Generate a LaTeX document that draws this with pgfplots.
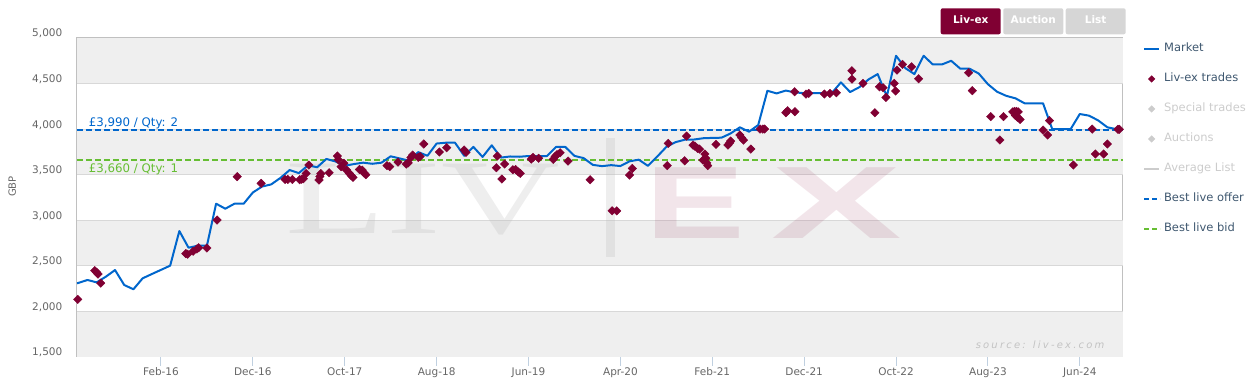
\documentclass[border=0pt]{standalone}
\usepackage{pgfplots}
\pgfplotsset{compat=1.18}
\usepackage{pgfplotstable}
\usepackage{fontspec}
\setmainfont{DejaVu Sans}
\newfontfamily\serifwm{Liberation Serif}
\newfontfamily\sanswm{Liberation Sans}
\newfontfamily\srcfont[LetterSpace=22]{DejaVu Sans}
\definecolor{livred}{RGB}{128,0,51}
\definecolor{mktblue}{RGB}{0,102,204}
\definecolor{bidgreen}{RGB}{102,190,51}
\definecolor{band}{RGB}{239,239,239}
\definecolor{gridc}{RGB}{216,216,216}
\definecolor{boxc}{RGB}{192,192,192}
\definecolor{tickc}{RGB}{102,102,102}
\definecolor{legc}{RGB}{62,87,111}
\definecolor{inact}{RGB}{204,204,204}
\definecolor{xtickc}{RGB}{192,208,224}
\definecolor{btngray}{RGB}{214,214,214}
\definecolor{wmgray}{RGB}{188,188,188}
\definecolor{srcc}{RGB}{195,195,195}

% months counted from Jan-15 = 0
\pgfplotstableread{
m v
3.86 2308
5 2345
6 2319
7 2381
8 2454
9 2290
10 2243
11 2363
12 2410
13 2456
14 2502
15 2882
16 2699
17 2721
18 2721
19 3182
20 3127
21 3182
22 3182
23 3305
24 3370
25 3394
26 3465
27 3551
28 3518
29 3602
30 3582
31 3673
32 3645
33 3598
34 3617
35 3632
36 3620
37 3632
38 3702
39 3678
40 3654
41 3748
42 3708
43 3842
44 3851
45 3851
46 3708
47 3805
48 3695
49 3823
50 3688
51 3700
52 3697
53 3705
54 3705
55 3705
56 3805
57 3805
58 3707
59 3682
60 3608
61 3594
62 3605
63 3595
64 3647
65 3665
66 3597
67 3698
68 3805
69 3857
70 3884
71 3886
72 3900
73 3904
74 3906
75 3953
76 4020
77 3972
78 4045
79 4421
80 4392
81 4423
82 4403
83 4395
84 4395
85 4395
86 4395
87 4513
88 4407
89 4460
90 4545
91 4604
92 4360
93 4805
94 4670
95 4604
96 4805
97 4710
98 4710
99 4750
100 4663
101 4663
102 4610
103 4493
104 4410
105 4365
106 4338
107 4283
108 4283
109 4283
110 4000
111 4000
112 4000
113 4166
114 4148
115 4096
116 4020
117 4000
}\market

\pgfplotstableread{
m v
3.94 2132
5.79 2447
6.0 2430
6.15 2410
6.44 2310
15.7 2635
15.9 2628
16.5 2660
16.9 2685
17.1 2699
18.0 2696
19.1 3003
21.3 3478
23.9 3405
26.5 3448
26.8 3448
27.3 3448
28.1 3445
28.3 3450
28.5 3455
28.8 3514
29.1 3606
30.2 3442
30.3 3480
30.4 3512
31.3 3522
32.2 3706
32.3 3665
32.6 3588
32.9 3625
33.2 3551
33.5 3515
33.7 3490
33.9 3470
34.6 3558
34.9 3550
35.1 3520
35.3 3500
37.6 3599
37.9 3588
38.8 3638
39.7 3617
39.9 3630
40.2 3690
40.4 3716
41.0 3690
41.2 3700
41.6 3837
43.3 3749
44.1 3796
46.0 3771
46.2 3745
49.5 3577
49.6 3705
50.1 3452
50.4 3617
51.3 3555
51.6 3558
51.9 3530
52.1 3515
53.3 3672
53.5 3690
54.1 3680
55.7 3668
55.9 3700
56.1 3720
56.45 3741
57.3 3650
59.7 3445
62.1 3104
62.6 3104
64.0 3496
64.3 3569
68.1 3599
68.2 3844
70.0 3653
70.2 3924
70.9 3825
71.1 3814
71.4 3789
71.6 3781
72.0 3660
72.2 3727
72.3 3680
72.4 3630
72.5 3600
73.4 3833
74.7 3825
74.9 3850
75.0 3869
76.0 3935
76.2 3905
76.4 3880
77.2 3781
78.2 4001
78.5 4001
78.7 4001
81.0 4180
81.2 4202
82.0 4191
81.96 4410
83.2 4385
83.5 4392
85.2 4385
85.8 4392
86.5 4399
88.2 4641
88.2 4549
89.4 4502
90.7 4180
91.2 4465
91.6 4454
91.9 4348
92.8 4502
92.95 4418
93.1 4648
93.7 4710
94.7 4684
95.45 4553
100.9 4619
101.3 4422
103.3 4137
104.3 3881
104.7 4137
105.7 4190
105.9 4195
106.1 4195
106.3 4190
106.0 4150
106.2 4130
106.5 4107
109.0 3990
109.5 3935
109.7 4093
112.3 3606
114.35 4001
114.7 3727
115.6 3727
116.0 3837
117.15 3998
117.3 3998
}\trades

\begin{document}
\begin{tikzpicture}
\useasboundingbox (0,0) rectangle (1254pt,391pt);
\begin{axis}[
  at={(77pt,34pt)}, anchor=south west,
  scale only axis, width=1046pt, height=319pt,
  xmin=3.86, xmax=117.7, ymin=1500, ymax=5000,
  clip mode=individual,
  axis line style={boxc, line width=1pt},
  xtick={13,23,...,113},
  xticklabels={Feb-16,Dec-16,Oct-17,Aug-18,Jun-19,Apr-20,Feb-21,Dec-21,Oct-22,Aug-23,Jun-24},
  xtick pos=bottom, xtick align=outside, major tick length=9pt,
  x tick style={draw=xtickc, line width=1pt},
  ytick={1500,2000,2500,3000,3500,4000,4500,5000},
  yticklabels={{1,500},{2,000},{2,500},{3,000},{3,500},{4,000},{4,500},{5,000}},
  ytick pos=left,
  y tick style={draw=none},
  tick label style={font=\fontsize{10.5}{12}\selectfont, text=tickc},
  xticklabel style={anchor=base, yshift=-10pt},
  yticklabel style={anchor=base east, inner sep=0pt, xshift=-14.5pt, yshift=1pt},
  ylabel={GBP},
  ylabel style={at={(axis description cs:-0.062,0.534)}, anchor=center, font=\fontsize{10}{12}\selectfont, text=tickc},
  legend style={at={(axis description cs:1.0191,0.985)}, anchor=north west, draw=none, fill=none,
    inner sep=0pt, font=\fontsize{11.5}{13}\selectfont, text=legc, row sep=18pt,
    nodes={inner xsep=3pt, inner ysep=0pt, text height=9pt, text depth=3pt}},
  legend cell align=left,
]
% background bands
\fill[band] (3.86,4500) rectangle (117.7,5000);
\fill[band] (3.86,3500) rectangle (117.7,4000);
\fill[band] (3.86,2500) rectangle (117.7,3000);
\fill[band] (3.86,1500) rectangle (117.7,2000);
\draw[gridc, line width=1pt] (3.86,2000) -- (117.7,2000);
\draw[gridc, line width=1pt] (3.86,2500) -- (117.7,2500);
\draw[gridc, line width=1pt] (3.86,3000) -- (117.7,3000);
\draw[gridc, line width=1pt] (3.86,3500) -- (117.7,3500);
\draw[gridc, line width=1pt] (3.86,4000) -- (117.7,4000);
\draw[gridc, line width=1pt] (3.86,4500) -- (117.7,4500);
% watermark
\node[font=\serifwm\fontsize{106}{106}\selectfont, text=wmgray, opacity=0.26, xscale=1.55, anchor=base, inner sep=0pt] at (41.5,2860) {LIV};
\fill[wmgray, opacity=0.26] (61.4,2597) rectangle (62.4,3902);
\node[font=\sanswm\bfseries\fontsize{103}{103}\selectfont, text=livred, opacity=0.1, xscale=1.45, anchor=base, inner sep=0pt] at (71.1,2805) {E};
\node[font=\sanswm\bfseries\fontsize{103}{103}\selectfont, text=livred, opacity=0.1, xscale=1.9, anchor=base, inner sep=0pt] at (86.6,2805) {X};
\node[font=\srcfont\itshape\fontsize{10}{12}\selectfont, text=srcc, anchor=base east, inner sep=0pt] at (115.7,1588) {source: liv-ex.com};

% legend
\addlegendimage{legend image code/.code={\draw[mktblue, line width=2pt] (0pt,0pt) -- (15pt,0pt);}}
\addlegendentry{Market}
\addlegendimage{legend image code/.code={\fill[livred] (7.5pt,3.3pt) -- (10.8pt,0pt) -- (7.5pt,-3.3pt) -- (4.2pt,0pt) -- cycle;}}
\addlegendentry{Liv-ex trades}
\addlegendimage{legend image code/.code={\fill[inact] (7.5pt,3.3pt) -- (10.8pt,0pt) -- (7.5pt,-3.3pt) -- (4.2pt,0pt) -- cycle;}}
\addlegendentry{\textcolor{inact}{Special trades}}
\addlegendimage{legend image code/.code={\fill[inact] (7.5pt,3.3pt) -- (10.8pt,0pt) -- (7.5pt,-3.3pt) -- (4.2pt,0pt) -- cycle;}}
\addlegendentry{\textcolor{inact}{Auctions}}
\addlegendimage{legend image code/.code={\draw[inact, line width=2pt] (0pt,0pt) -- (15pt,0pt);}}
\addlegendentry{\textcolor{inact}{Average List}}
\addlegendimage{legend image code/.code={\draw[mktblue, line width=1.4pt, dash pattern=on 5pt off 3pt] (0pt,0pt) -- (16pt,0pt);}}
\addlegendentry{Best live offer}
\addlegendimage{legend image code/.code={\draw[bidgreen, line width=1.8pt, dash pattern=on 5pt off 3pt] (0pt,0pt) -- (16pt,0pt);}}
\addlegendentry{Best live bid}

% best offer / bid
\addplot[forget plot, mktblue, line width=1.3pt, dash pattern=on 6pt off 3pt] coordinates {(3.86,3990) (117.7,3990)};
\addplot[forget plot, bidgreen, line width=1.9pt, dash pattern=on 6pt off 3pt] coordinates {(3.86,3660) (117.7,3660)};
\node[anchor=base west, inner sep=0pt, text=mktblue, font=\fontsize{11.8}{13}\selectfont] at (5.13,4034) {£3,990 / Qty: 2};
\node[anchor=base west, inner sep=0pt, text=bidgreen, font=\fontsize{11.8}{13}\selectfont] at (5.13,3529) {£3,660 / Qty: 1};

% market
\addplot[forget plot, mktblue, line width=2pt, line join=round] table[x=m, y=v] {\market};
% trades
\addplot[forget plot, only marks, mark=square*, mark size=3pt, mark options={rotate=45, fill=livred, draw=livred}] table[x=m, y=v] {\trades};
\end{axis}
% buttons
\fill[livred, rounded corners=2pt] (940.7pt,356.7pt) rectangle (1000.7pt,382.7pt);
\node[text=white, font=\bfseries\fontsize{10.5}{12}\selectfont] at (970.7pt,371pt) {Liv-ex};
\fill[btngray, rounded corners=2pt] (1003.3pt,356.7pt) rectangle (1063.3pt,382.7pt);
\node[text=white, font=\bfseries\fontsize{10.5}{12}\selectfont] at (1033.3pt,371pt) {Auction};
\fill[btngray, rounded corners=2pt] (1065.7pt,356.7pt) rectangle (1125.7pt,382.7pt);
\node[text=white, font=\bfseries\fontsize{10.5}{12}\selectfont] at (1095.7pt,371pt) {List};
\end{tikzpicture}
\end{document}
